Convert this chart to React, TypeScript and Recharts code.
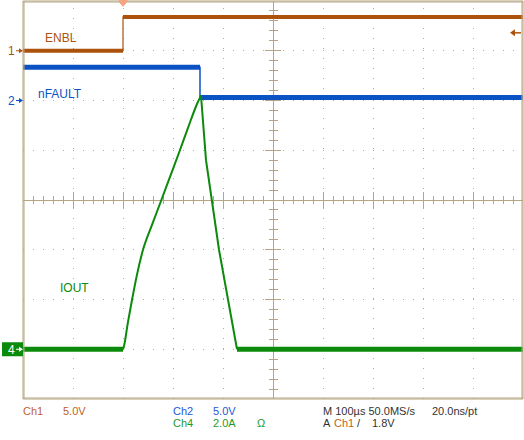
import React from "react"
import {
  ComposedChart,
  Line,
  XAxis,
  YAxis,
  ReferenceLine,
  ReferenceDot,
} from "recharts"

// time in µs (100 µs/div), channel levels in volts / amps
const enblTime = [0, 200, 200, 1000]
const enblVolts = [0, 0, 3.4, 3.4]

const nfaultTime = [0, 354, 354, 1000]
const nfaultVolts = [3.35, 3.35, 0.3, 0.3]

const ioutTime = [0, 200, 202, 210, 218, 228, 240, 258, 276, 294, 312, 330, 348, 356, 366, 378, 392, 410, 428, 1000]
const ioutAmps = [0, 0, 0.13, 1.1, 1.98, 3.0, 4.0, 5.0, 5.96, 6.93, 7.9, 8.9, 9.86, 10.2, 7.6, 5.95, 4.0, 2.0, 0, 0]
const ioutPeakIdx = 13

const trigTime = 200
const trigLevel = 1.8

const C1 = "#ad520c"
const C2 = "#0b53c4"
const C4 = "#0b8a0b"
const GRID = "#b5a582"
const DOTS = "#b9aa8a"
const FONT = '"Liberation Sans Narrow", "Liberation Sans", Arial, sans-serif'

// graticule: 10 x 8 divisions, 5 minor steps per division
const steps = (from: number, to: number, step: number) => {
  const out: number[] = []
  for (let v = from; v <= to + 1e-9; v += step) out.push(Math.round(v * 1000) / 1000)
  return out
}
const divTimes = steps(0, 1000, 100)
const minorTimes = steps(0, 1000, 20)
const divLevels = steps(-4, 4, 1)
const minorLevels = steps(-4, 4, 0.2)

// channel axis: units per div, ground offset in divs
const chDomain = (perDiv: number, offset: number) => [(-4 - offset) * perDiv, (4 - offset) * perDiv]

type Pt = { t: number; v: number | null }
const toPoints = (t: number[], v: number[]): Pt[] => t.map((x, i) => ({ t: x, v: v[i] }))
// keep only the flat (noisy, thick) parts, break the line at edges
const flatOnly = (pts: Pt[]): Pt[] => {
  const out: Pt[] = []
  pts.forEach((p, i) => {
    out.push(p)
    const n = pts[i + 1]
    if (n && n.v !== p.v) out.push({ t: (p.t + n.t) / 2, v: null })
  })
  return out
}

const enbl = toPoints(enblTime, enblVolts)
const nfault = toPoints(nfaultTime, nfaultVolts)
const iout = toPoints(ioutTime, ioutAmps)
const ioutRise = iout.slice(1, ioutPeakIdx + 1)
const ioutFall = iout.slice(ioutPeakIdx, iout.length - 1)

const ChannelMark = (props: any) => {
  const { cx, cy, label, color, boxed } = props
  const fg = boxed ? "#fff" : color
  return (
    <g>
      {boxed && <rect x={cx - 21} y={cy - 7} width={21} height={14} fill={color} />}
      <text x={cx - 15} y={cy + 4.5} fill={fg} fontSize={12} fontFamily={FONT}>
        {label}
      </text>
      <line x1={cx - 7} y1={cy} x2={cx - 3} y2={cy} stroke={fg} strokeWidth={1} />
      <path d={`M ${cx - 4} ${cy - 2.5} L ${cx} ${cy} L ${cx - 4} ${cy + 2.5} Z`} fill={fg} />
    </g>
  )
}

const TraceLabel = (props: any) => (
  <text x={props.cx} y={props.cy} fill={props.color} fontSize={12} fontFamily={FONT}>
    {props.text}
  </text>
)

const TrigLevelMark = (props: any) => {
  const { cx, cy } = props
  return (
    <g>
      <path d={`M ${cx - 13} ${cy} L ${cx - 8} ${cy - 3.5} L ${cx - 8} ${cy + 3.5} Z`} fill={C1} />
      <line x1={cx - 9} y1={cy} x2={cx - 2} y2={cy} stroke={C1} strokeWidth={1.5} />
    </g>
  )
}

const TrigTimeMark = (props: any) => {
  const { cx, cy } = props
  return (
    <g>
      <circle cx={cx} cy={cy - 1} r={4.5} fill="#f4a584" />
      <path d={`M ${cx - 3.5} ${cy + 1.5} L ${cx + 3.5} ${cy + 1.5} L ${cx} ${cy + 6} Z`} fill="#f4a584" />
    </g>
  )
}

export default function App() {
  const edge = {
    stroke: GRID,
    tick: false as const,
    interval: 0 as const,
    mirror: true,
    allowDataOverflow: true,
    type: "number" as const,
  }
  return (
    <div style={{ position: "absolute", left: 0, top: 0, width: 524, height: 440, background: "#fff" }}>
      <ComposedChart width={524} height={440} margin={{ top: 1, right: 1, bottom: 41, left: 23 }}>
        <XAxis dataKey="t" domain={[0, 1000]} ticks={divTimes} tickSize={9} height={1} {...edge} />
        <XAxis xAxisId="bMinor" domain={[0, 1000]} ticks={minorTimes} tickSize={5} height={1} {...edge} />
        <XAxis xAxisId="tMajor" orientation="top" domain={[0, 1000]} ticks={divTimes} tickSize={9} height={1} {...edge} />
        <XAxis xAxisId="tMinor" orientation="top" domain={[0, 1000]} ticks={minorTimes} tickSize={5} height={1} {...edge} />
        <YAxis domain={[-4, 4]} ticks={divLevels} tickSize={9} width={1} {...edge} />
        <YAxis yAxisId="lMinor" domain={[-4, 4]} ticks={minorLevels} tickSize={5} width={1} {...edge} />
        <YAxis yAxisId="rMajor" orientation="right" domain={[-4, 4]} ticks={divLevels} tickSize={9} width={1} {...edge} />
        <YAxis yAxisId="rMinor" orientation="right" domain={[-4, 4]} ticks={minorLevels} tickSize={5} width={1} {...edge} />

        <YAxis yAxisId="ch1" hide type="number" domain={chDomain(5, 3)} allowDataOverflow />
        <YAxis yAxisId="ch2" hide type="number" domain={chDomain(5, 2)} allowDataOverflow />
        <YAxis yAxisId="ch4" hide type="number" domain={chDomain(2, -3)} allowDataOverflow />

        {/* dotted division grid */}
        {divTimes
          .filter((t) => t !== 0 && t !== 500 && t !== 1000)
          .map((t) => (
            <ReferenceLine key={"gx" + t} x={t} stroke={DOTS} strokeDasharray="1 9" shapeRendering="crispEdges" />
          ))}
        {divLevels
          .filter((l) => l !== 0 && Math.abs(l) !== 4)
          .map((l) => (
            <ReferenceLine key={"gy" + l} y={l} stroke={DOTS} strokeDasharray="1 9" shapeRendering="crispEdges" />
          ))}

        {/* centre cross with minor ticks */}
        <ReferenceLine x={500} stroke={GRID} shapeRendering="crispEdges" />
        <ReferenceLine y={0} stroke={GRID} shapeRendering="crispEdges" />
        {minorTimes
          .filter((t) => t !== 500 && t !== 0 && t !== 1000)
          .map((t) => {
            const h = t % 100 === 0 ? 0.16 : 0.09
            return (
              <ReferenceLine
                key={"cx" + t}
                segment={[{ x: t, y: -h }, { x: t, y: h }]}
                stroke={GRID}
                shapeRendering="crispEdges"
              />
            )
          })}
        {minorLevels
          .filter((l) => l !== 0 && Math.abs(l) !== 4)
          .map((l) => {
            const w = Number.isInteger(l) ? 16 : 9
            return (
              <ReferenceLine
                key={"cy" + l}
                segment={[{ x: 500 - w, y: l }, { x: 500 + w, y: l }]}
                stroke={GRID}
                shapeRendering="crispEdges"
              />
            )
          })}

        <Line data={flatOnly(enbl)} dataKey="v" yAxisId="ch1" stroke={C1} strokeWidth={4} dot={false} isAnimationActive={false} />
        <Line data={enbl} dataKey="v" yAxisId="ch1" stroke={C1} strokeWidth={1.2} dot={false} isAnimationActive={false} />
        <Line data={flatOnly(nfault)} dataKey="v" yAxisId="ch2" stroke={C2} strokeWidth={5} dot={false} isAnimationActive={false} />
        <Line data={nfault} dataKey="v" yAxisId="ch2" stroke={C2} strokeWidth={1.5} dot={false} isAnimationActive={false} />
        <Line data={flatOnly(iout)} dataKey="v" yAxisId="ch4" stroke={C4} strokeWidth={5} dot={false} isAnimationActive={false} />
        <Line data={ioutRise} dataKey="v" yAxisId="ch4" type="monotone" stroke={C4} strokeWidth={2} dot={false} isAnimationActive={false} />
        <Line data={ioutFall} dataKey="v" yAxisId="ch4" stroke={C4} strokeWidth={2} dot={false} isAnimationActive={false} />

        <ReferenceDot x={44} y={3.18} r={0} ifOverflow="visible" shape={(p: any) => <TraceLabel {...p} text="ENBL" color={C1} />} />
        <ReferenceDot x={30} y={2.05} r={0} ifOverflow="visible" shape={(p: any) => <TraceLabel {...p} text="nFAULT" color={C2} />} />
        <ReferenceDot x={74} y={-1.85} r={0} ifOverflow="visible" shape={(p: any) => <TraceLabel {...p} text="IOUT" color={C4} />} />

        <ReferenceDot x={0} y={0} yAxisId="ch1" r={0} ifOverflow="visible" shape={(p: any) => <ChannelMark {...p} label="1" color={C1} />} />
        <ReferenceDot x={0} y={0} yAxisId="ch2" r={0} ifOverflow="visible" shape={(p: any) => <ChannelMark {...p} label="2" color={C2} />} />
        <ReferenceDot x={0} y={0} yAxisId="ch4" r={0} ifOverflow="visible" shape={(p: any) => <ChannelMark {...p} label="4" color={C4} boxed />} />
        <ReferenceDot x={1000} y={trigLevel} yAxisId="ch1" r={0} ifOverflow="visible" shape={(p: any) => <TrigLevelMark {...p} />} />
        <ReferenceDot x={trigTime} y={4} r={0} ifOverflow="visible" shape={(p: any) => <TrigTimeMark {...p} />} />
      </ComposedChart>

      <svg width={524} height={440} style={{ position: "absolute", left: 0, top: 0, pointerEvents: "none" }}>
        <g fontFamily={FONT} fontSize={11}>
          <text x={23} y={414.5} fill="#c0621e">Ch1</text>
          <text x={63} y={414.5} fill="#c0621e">5.0V</text>
          <text x={173} y={414.5} fill="#2457d8">Ch2</text>
          <text x={213} y={414.5} fill="#2457d8">5.0V</text>
          <text x={323} y={414.5} fill="#333">M 100µs 50.0MS/s</text>
          <text x={432} y={414.5} fill="#333">20.0ns/pt</text>
          <text x={173} y={427} fill="#1f9a1f">Ch4</text>
          <text x={213} y={427} fill="#1f9a1f">2.0A</text>
          <text x={257} y={427} fill="#1f9a1f">Ω</text>
          <text x={323} y={427} fill="#333">A</text>
          <text x={334} y={427} fill="#c0621e">Ch1</text>
          <text x={357} y={427} fill="#333">/</text>
          <text x={372} y={427} fill="#333">1.8V</text>
        </g>
      </svg>
    </div>
  )
}
